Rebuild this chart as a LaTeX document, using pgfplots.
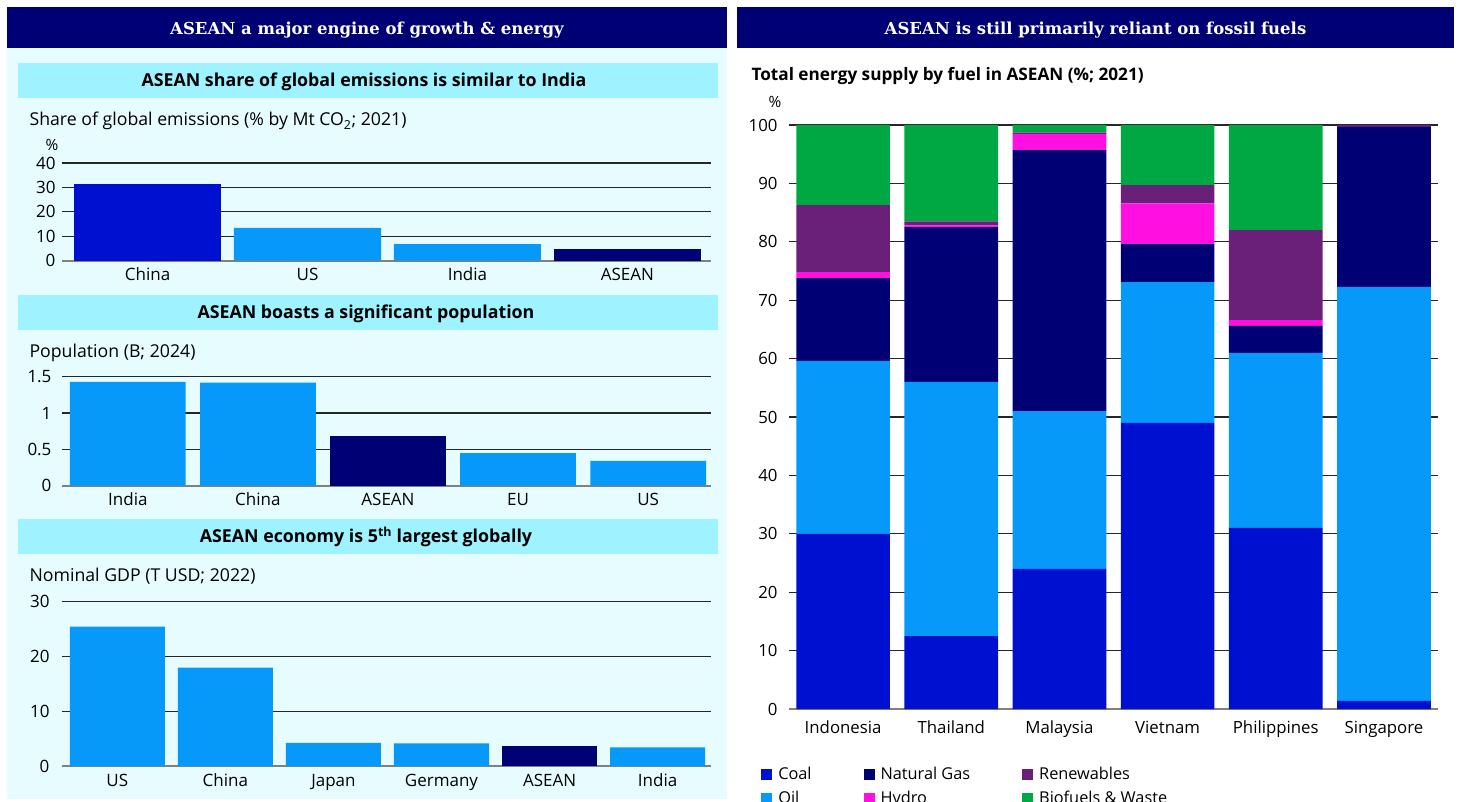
\documentclass[border=0pt]{standalone}
\usepackage{fontspec}
\setmainfont{Open Sans}
\newfontfamily\seriffont{DejaVu Serif}
\usepackage{pgfplots}
\usepackage{pgfplotstable}
\pgfplotsset{compat=1.18}

\definecolor{coal}{RGB}{0,16,208}
\definecolor{oil}{RGB}{6,153,249}
\definecolor{navy}{RGB}{0,0,117}
\definecolor{hydro}{RGB}{255,16,224}
\definecolor{renew}{RGB}{106,31,120}
\definecolor{bio}{RGB}{0,168,68}
\definecolor{panel}{RGB}{230,252,255}
\definecolor{subbar}{RGB}{159,242,255}

\newcommand{\fs}[1]{\fontsize{#1}{#1}\selectfont}

\pgfplotstableread{
x coal oil gas hydro renew bio
0 30.0 29.6 14.2 1.0 11.5 13.7
1 12.5 43.5 26.5 0.3 0.7 16.5
2 24.0 27.0 44.7 2.8 0.2 1.3
3 49.0 24.1 6.5 7.0 3.1 10.3
4 31.0 30.0 4.6 1.0 15.4 18.0
5 1.4 70.9 27.4 0.0 0.3 0.0
}\energy

\pgfplotsset{
  common/.style={
    scale only axis,
    axis x line*=bottom, axis y line*=left,
    x axis line style={draw=black!50, line width=1.8pt},
    y axis line style={draw=none},
    ymajorgrids, major grid style={black!85, line width=1.1pt},
    major tick length=0pt, tick style={draw=none},
    ymin=0,
    /pgf/number format/assume math mode=true,
    ticklabel style={font=\fs{17pt}},
    xticklabel style={anchor=base, yshift=-20pt},
    yticklabel style={anchor=east},
  },
  leftbar/.style={common, width=649pt, anchor=south west},
}

\begin{document}
\begin{tikzpicture}
\clip (0,0) rectangle (1461pt,-802pt);
\fill[white] (0,0) rectangle (1461pt,-802pt);
\fill[navy] (7pt,-7pt) rectangle (727pt,-48pt);
\fill[panel] (7pt,-48pt) rectangle (727pt,-799pt);
\fill[navy] (737pt,-7pt) rectangle (1454pt,-48pt);
\fill[subbar] (18pt,-63pt) rectangle (718pt,-98pt);
\fill[subbar] (18pt,-295pt) rectangle (718pt,-330pt);
\fill[subbar] (18pt,-519pt) rectangle (718pt,-554pt);

\node[white, anchor=base, font=\seriffont\bfseries\fs{16.5pt}] at (367pt,-35pt) {ASEAN a major engine of growth \& energy};
\node[white, anchor=base, font=\seriffont\bfseries\fs{16.5pt}] at (1095.5pt,-35pt) {ASEAN is still primarily reliant on fossil fuels};

\node[anchor=base, font=\bfseries\fs{17.8pt}] at (364pt,-86.5pt) {ASEAN share of global emissions is similar to India};
\node[anchor=base, font=\bfseries\fs{17.8pt}] at (366pt,-318.5pt) {ASEAN boasts a significant population};
\node[anchor=base, font=\bfseries\fs{17.8pt}] at (366pt,-542.5pt) {ASEAN economy is 5\textsuperscript{th} largest globally};

\node[anchor=base west, font=\fs{17.7pt}] at (26pt,-126pt) {Share of global emissions (\% by Mt CO\textsubscript{2}; 2021)};
\node[anchor=base west, font=\fs{17.7pt}] at (26pt,-357.5pt) {Population (B; 2024)};
\node[anchor=base west, font=\fs{17.7pt}] at (26pt,-581pt) {Nominal GDP (T USD; 2022)};
\node[anchor=base west, font=\bfseries\fs{17.2pt}] at (748pt,-81pt) {Total energy supply by fuel in ASEAN (\%; 2021)};

\node[font=\fs{15.5pt}] at (52pt,-145pt) {\%};
\node[font=\fs{15.5pt}] at (775pt,-102pt) {\%};

% Chart 1
\begin{axis}[leftbar, at={(62pt,-260.7pt)}, height=97.7pt,
  yticklabel style={xshift=-3pt},
  xmin=-0.535, xmax=3.523, ymax=40, ytick={0,10,20,30,40},
  xtick={0,1,2,3}, xticklabels={China,US,India,ASEAN}]
\addplot[ybar, bar shift=0pt, bar width=0.92, fill=coal, draw=none] coordinates {(0,31.4)};
\addplot[ybar, bar shift=0pt, bar width=0.92, fill=oil, draw=none] coordinates {(1,13.4) (2,6.8)};
\addplot[ybar, bar shift=0pt, bar width=0.92, fill=navy, draw=none] coordinates {(3,4.8)};
\end{axis}

% Chart 2
\begin{axis}[leftbar, at={(62pt,-485.7pt)}, height=109pt,
  yticklabel style={xshift=-7pt},
  xmin=-0.506, xmax=4.483, ymax=1.5, ytick={0,0.5,1,1.5},
  xtick={0,1,2,3,4}, xticklabels={India,China,ASEAN,EU,US}]
\addplot[ybar, bar shift=0pt, bar width=0.89, fill=oil, draw=none] coordinates {(0,1.43) (1,1.42) (3,0.45) (4,0.34)};
\addplot[ybar, bar shift=0pt, bar width=0.89, fill=navy, draw=none] coordinates {(2,0.68)};
\end{axis}

% Chart 3
\begin{axis}[leftbar, at={(62pt,-766pt)}, height=164.7pt,
  yticklabel style={xshift=-9pt},
  xmin=-0.512, xmax=5.494, ymax=30, ytick={0,10,20,30},
  xtick={0,1,2,3,4,5}, xticklabels={US,China,Japan,Germany,ASEAN,India}]
\addplot[ybar, bar shift=0pt, bar width=0.88, fill=oil, draw=none] coordinates {(0,25.4) (1,17.9) (2,4.2) (3,4.1) (5,3.4)};
\addplot[ybar, bar shift=0pt, bar width=0.88, fill=navy, draw=none] coordinates {(4,3.7)};
\end{axis}

% Right chart
\begin{axis}[common, at={(789pt,-709pt)}, anchor=south west,
  width=649pt, height=584pt,
  ybar stacked, bar width=0.866,
  xmin=-0.5, xmax=5.5, ymax=100, ytick={0,10,...,100},
  xtick={0,...,5}, xticklabels={Indonesia,Thailand,Malaysia,Vietnam,Philippines,Singapore},
  xticklabel style={yshift=-4pt},
  ticklabel style={font=\fs{16.8pt}},
  yticklabel style={xshift=-8pt},
  legend columns=2, transpose legend,
  legend style={at={(axis description cs:-0.043,-0.096)}, anchor=north west,
    draw=none, fill=none, inner sep=0pt, font=\fs{16.3pt},
    column sep=4pt, row sep=6pt,
    /tikz/every even column/.append style={column sep=50pt}},
  legend cell align=left,
  legend image code/.code={\fill[#1] (0pt,-5.5pt) rectangle (11pt,5.5pt);},
]
\addplot[fill=coal, draw=none] table[x=x, y=coal] {\energy};
\addlegendentry{Coal}
\addplot[fill=oil, draw=none] table[x=x, y=oil] {\energy};
\addlegendentry{Oil}
\addplot[fill=navy, draw=none] table[x=x, y=gas] {\energy};
\addlegendentry{Natural Gas}
\addplot[fill=hydro, draw=none] table[x=x, y=hydro] {\energy};
\addlegendentry{Hydro}
\addplot[fill=renew, draw=none] table[x=x, y=renew] {\energy};
\addlegendentry{Renewables}
\addplot[fill=bio, draw=none] table[x=x, y=bio] {\energy};
\addlegendentry{Biofuels \& Waste}
\end{axis}
\end{tikzpicture}
\end{document}
